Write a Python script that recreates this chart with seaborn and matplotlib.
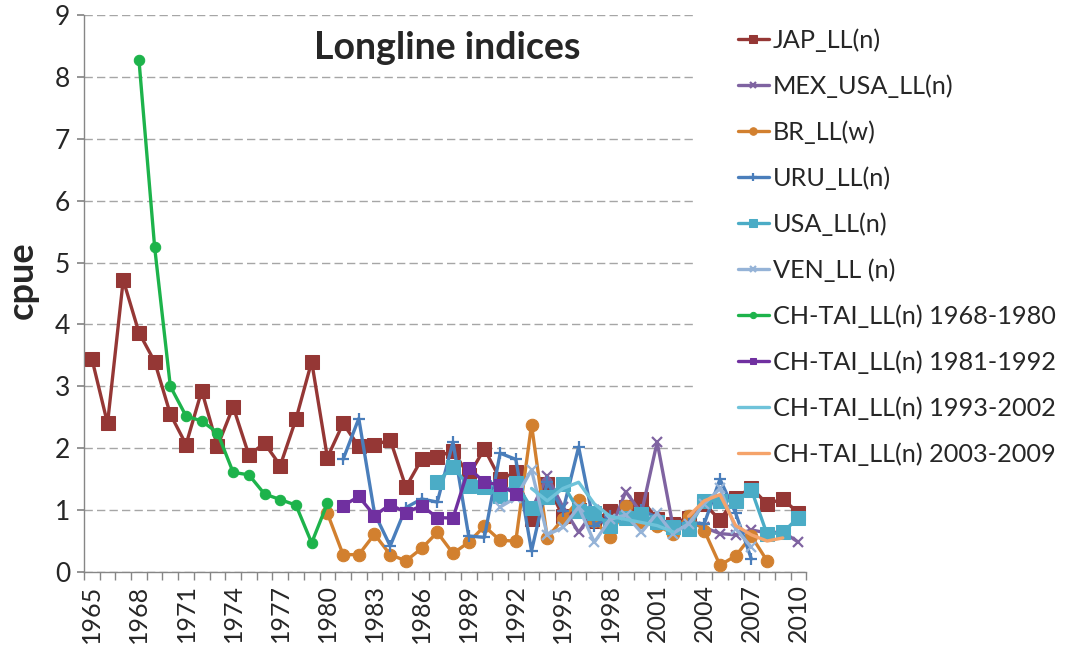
import numpy as np
import pandas as pd
import seaborn as sns
import matplotlib.pyplot as plt
from matplotlib.patches import Rectangle

# serie CPUE longline
jap_years = list(range(1965, 2011))
jap_cpue = [3.45, 2.40, 4.72, 3.87, 3.40, 2.55, 2.06, 2.93, 2.03, 2.67,
            1.89, 2.08, 1.72, 2.47, 3.40, 1.85, 2.40, 2.03, 2.05, 2.14,
            1.37, 1.82, 1.86, 1.96, 1.56, 1.99, 1.50, 1.61, 0.86, 1.42,
            0.90, 1.00, 0.83, 0.98, 1.05, 1.18, 0.85, 0.78, 0.88, 1.10,
            0.84, 1.20, 1.36, 1.10, 1.18, 0.95]

mex_years = list(range(1993, 2011))
mex_cpue = [1.00, 1.55, 1.05, 0.64, 1.00, 0.65, 1.30, 0.95, 2.10, 0.75,
            0.80, 0.72, 0.62, 0.60, 0.68, 0.63, 0.65, 0.48]

br_years = list(range(1980, 2009))
br_cpue = [0.95, 0.28, 0.28, 0.61, 0.28, 0.18, 0.38, 0.64, 0.30, 0.48,
           0.74, 0.51, 0.50, 2.38, 0.55, 0.86, 1.16, 0.83, 0.56, 1.07,
           0.80, 0.75, 0.62, 0.91, 0.67, 0.11, 0.26, 0.58, 0.18]

uru_years = list(range(1981, 2008))
uru_cpue = [1.82, 2.48, 0.95, 0.42, 1.04, 1.18, 1.13, 2.10, 0.58, 0.56,
            1.92, 1.82, 0.34, 1.45, 0.99, 2.02, 0.75, 0.90, 0.85, 1.00,
            0.88, 0.75, 0.80, 0.78, 1.50, 0.95, 0.21]

usa_years = list(range(1987, 2011))
usa_cpue = [1.46, 1.70, 1.39, 1.37, 1.22, 1.44, 1.03, 1.21, 1.42, 0.99,
            0.95, 0.75, 0.88, 0.94, 0.80, 0.72, 0.69, 1.15, 1.15, 1.15,
            1.33, 0.61, 0.64, 0.88]

ven_years = list(range(1991, 2008))
ven_cpue = [1.05, 1.20, 1.65, 0.60, 0.72, 1.05, 0.48, 0.85, 0.92, 0.64,
            0.95, 0.62, 0.78, 1.10, 1.35, 0.70, 0.40]

tai1_years = list(range(1968, 1981))
tai1_cpue = [8.28, 5.25, 3.00, 2.52, 2.44, 2.25, 1.61, 1.57, 1.26, 1.17,
             1.08, 0.47, 1.11]

tai2_years = list(range(1981, 1993))
tai2_cpue = [1.07, 1.22, 0.91, 1.09, 0.96, 1.07, 0.88, 0.87, 1.68, 1.45,
             1.41, 1.26]

tai3_years = list(range(1993, 2003))
tai3_cpue = [1.35, 1.15, 1.35, 1.45, 1.10, 0.90, 0.85, 0.80, 0.75, 0.65]

tai4_years = list(range(2003, 2010))
tai4_cpue = [0.90, 1.15, 1.25, 0.75, 0.60, 0.50, 0.55]

series_names = ["JAP_LL(n)", "MEX_USA_LL(n)", "BR_LL(w)", "URU_LL(n)",
                "USA_LL(n)", "VEN_LL (n)", "CH-TAI_LL(n) 1968-1980",
                "CH-TAI_LL(n) 1981-1992", "CH-TAI_LL(n) 1993-2002",
                "CH-TAI_LL(n) 2003-2009"]
series_years = [jap_years, mex_years, br_years, uru_years, usa_years,
                ven_years, tai1_years, tai2_years, tai3_years, tai4_years]
series_cpue = [jap_cpue, mex_cpue, br_cpue, uru_cpue, usa_cpue, ven_cpue,
               tai1_cpue, tai2_cpue, tai3_cpue, tai4_cpue]

# stile di ogni serie: colore, marker, dimensione marker
styles = [("#953735", "s", 9.5),
          ("#7F63A1", "x", 7),
          ("#D2802F", "o", 9),
          ("#4A7EBB", "+", 9),
          ("#4BACC6", "s", 9.5),
          ("#95B3D7", "x", 7),
          ("#1DB34B", "o", 7.5),
          ("#7030A0", "s", 8),
          ("#6FC3DA", None, 0),
          ("#F5A36A", None, 0)]

sns.set_theme(style="white")
plt.rcParams['font.family'] = ['Lato', 'DejaVu Sans']

fig = plt.figure(figsize=(10.67, 6.46), dpi=100)
ax = fig.add_axes([0.0787, 0.1146, 0.677, 0.862])

for name, yrs, vals, (col, mk, ms) in zip(series_names, series_years, series_cpue, styles):
    df = pd.DataFrame({"year": yrs, "cpue": vals})
    kw = dict(marker=mk, markersize=ms) if mk else {}
    if mk in ("x", "+"):
        kw["markeredgewidth"] = 1.6
    kw["markeredgecolor"] = col
    sns.lineplot(data=df, x="year", y="cpue", ax=ax, color=col, linewidth=2.4,
                 label=name, zorder=3, **kw)

ax.set_xlim(1964.5, 2010.5)
ax.set_ylim(0, 9)
ax.set_yticks(range(0, 10))
ax.set_xticks(list(range(1965, 2011, 3)))
ax.set_xticklabels([str(y) for y in range(1965, 2011, 3)], rotation=90, fontsize=18)
ax.set_xticks(np.arange(1964.5, 2011, 1), minor=True)
ax.tick_params(axis='x', which='major', length=0, pad=9)
ax.tick_params(axis='x', which='minor', length=6, color="#868686", direction='out', bottom=True)
ax.tick_params(axis='y', labelsize=19, length=5, color="#868686", direction='out', left=True, pad=5)

ax.yaxis.grid(True, linestyle=(0, (6, 3)), color="#A6A6A6", linewidth=1.0)
ax.set_axisbelow(True)
for s in ["top", "right"]:
    ax.spines[s].set_visible(False)
for s in ["left", "bottom"]:
    ax.spines[s].set_color("#868686")
    ax.spines[s].set_linewidth(1.0)

ax.set_xlabel("")
ax.set_ylabel("cpue", fontsize=26, fontweight="bold")
ax.yaxis.set_label_coords(-0.062, 0.524)

ax.text(0.503, 0.941, "Longline indices", transform=ax.transAxes,
        fontsize=27, fontweight="bold", ha="center", va="center")

# zona bianca della legenda sopra la griglia
ax.add_patch(Rectangle((0.846, 0.183), 0.2, 0.9, transform=ax.transAxes,
                       facecolor="white", edgecolor="none", zorder=1, clip_on=False))

leg = ax.legend(loc="upper left", bbox_to_anchor=(0.670, 0.992), bbox_transform=fig.transFigure,
                frameon=False, fontsize=18.2, handlelength=1.25, handletextpad=0.13,
                labelspacing=0.89, markerscale=0.6)

fig.savefig("out.png", dpi=100)
